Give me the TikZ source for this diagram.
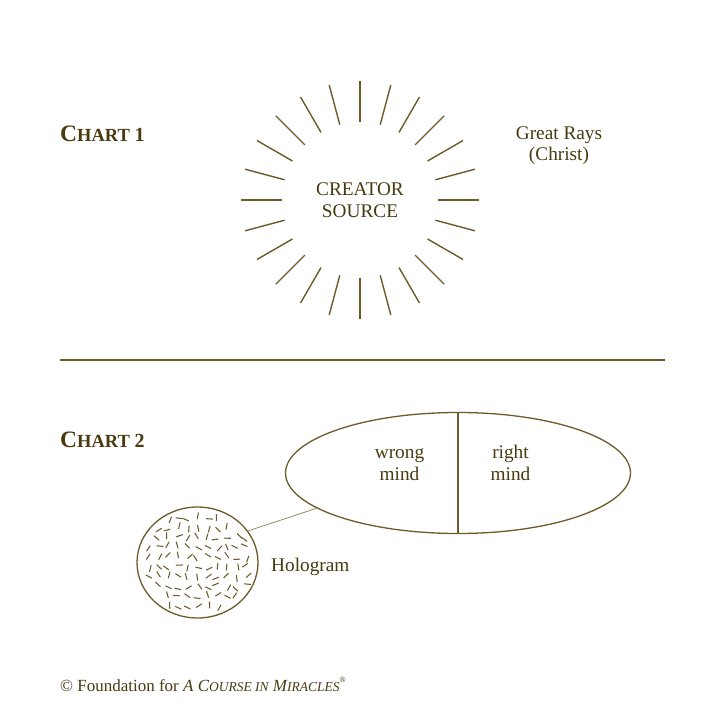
\documentclass[tikz,border=0pt]{standalone}
\usepackage{fontspec}
\setmainfont{Liberation Serif}
\usetikzlibrary{shapes.geometric}
\definecolor{txt}{HTML}{4A3A12}
\definecolor{ln}{HTML}{6E5A2A}
\definecolor{lnlight}{HTML}{9C8C66}
\tikzset{
  lbl/.style={text=txt, inner sep=0pt, font=\fontsize{19.3}{22}\selectfont},
  ray/.style={draw=ln, line width=1.4pt},
  outline/.style={draw=ln, line width=1.3pt},
  speck/.style={draw=ln, line width=1.05pt},
  link/.style={draw=lnlight, line width=0.8pt},
  rule/.style={draw=ln, line width=1.6pt}
}
\newcommand{\chartttl}[1]{{\bfseries\fontsize{23.5}{23.5}\selectfont C\fontsize{18.5}{18.5}\selectfont HART\ \fontsize{20}{20}\selectfont #1}}
\begin{document}
\begin{tikzpicture}[x=1pt,y=-1pt]
\fill[white] (0,0) rectangle (720,719);
\useasboundingbox (0,0) rectangle (720,719);

% Chart 1
\node[lbl, anchor=base west] (chart1) at (60,142) {\chartttl{1}};
\coordinate (src) at (360,200);
\foreach \a in {0,15,...,345}
  \draw[ray] (src) ++(\a:78) -- ++(\a:41);
\node[lbl, anchor=base] (creator1) at (360,195.7) {CREATOR};
\node[lbl, anchor=base] (creator2) at (360,217.7) {SOURCE};
\node[lbl, anchor=base] (rays1) at (559,140) {Great Rays};
\node[lbl, anchor=base] (rays2) at (559,160.5) {(Christ)};

% divider
\coordinate (ruleL) at (60,360);
\coordinate (ruleR) at (665,360);
\draw[rule] (ruleL) -- (ruleR);

% Chart 2
\node[lbl, anchor=base west] (chart2) at (60,447) {\chartttl{2}};
\node[outline, ellipse, minimum width=345pt, minimum height=121pt, inner sep=0pt] (mind) at (458,473) {};
\draw[outline] (mind.north) -- (mind.south);
\node[lbl, anchor=base] (wrong1) at (399.5,458) {wrong};
\node[lbl, anchor=base] (wrong2) at (399.5,480) {mind};
\node[lbl, anchor=base] (right1) at (510.5,458) {right};
\node[lbl, anchor=base] (right2) at (510.5,480) {mind};

\node[outline, ellipse, minimum width=121pt, minimum height=111pt, inner sep=0pt] (holo) at (197.5,562.5) {};
\draw[link] (holo.32) -- (mind.194);
\node[lbl, anchor=base west] (hololbl) at (271,571) {Hologram};

\pgfmathsetseed{2024}
\foreach \gx in {0,...,12}{
  \foreach \gy in {0,...,11}{
    \pgfmathsetmacro\px{139+\gx*9.8+5*rnd-2.5}
    \pgfmathsetmacro\py{508+\gy*9.8+5*rnd-2.5}
    \pgfmathtruncatemacro\inside{((\px-197.5)/55.5)^2+((\py-562.5)/50.5)^2<1 ? 1 : 0}
    \pgfmathsetmacro\dir{180*rnd}
    \ifnum\inside=1
      \draw[speck] (\px,\py) ++(\dir:3.4) -- ++(\dir+180:6.8);
    \fi
  }
}

% footer
\node[lbl, anchor=base west, font=\fontsize{17}{20}\selectfont] (footer) at (60,691)
  {\textcopyright\ Foundation for \textit{A C{\fontsize{13.5}{16}\selectfont OURSE IN} M{\fontsize{13.5}{16}\selectfont IRACLES}}\raisebox{1.1ex}{\fontsize{8}{8}\selectfont\textregistered}};
\end{tikzpicture}
\end{document}
